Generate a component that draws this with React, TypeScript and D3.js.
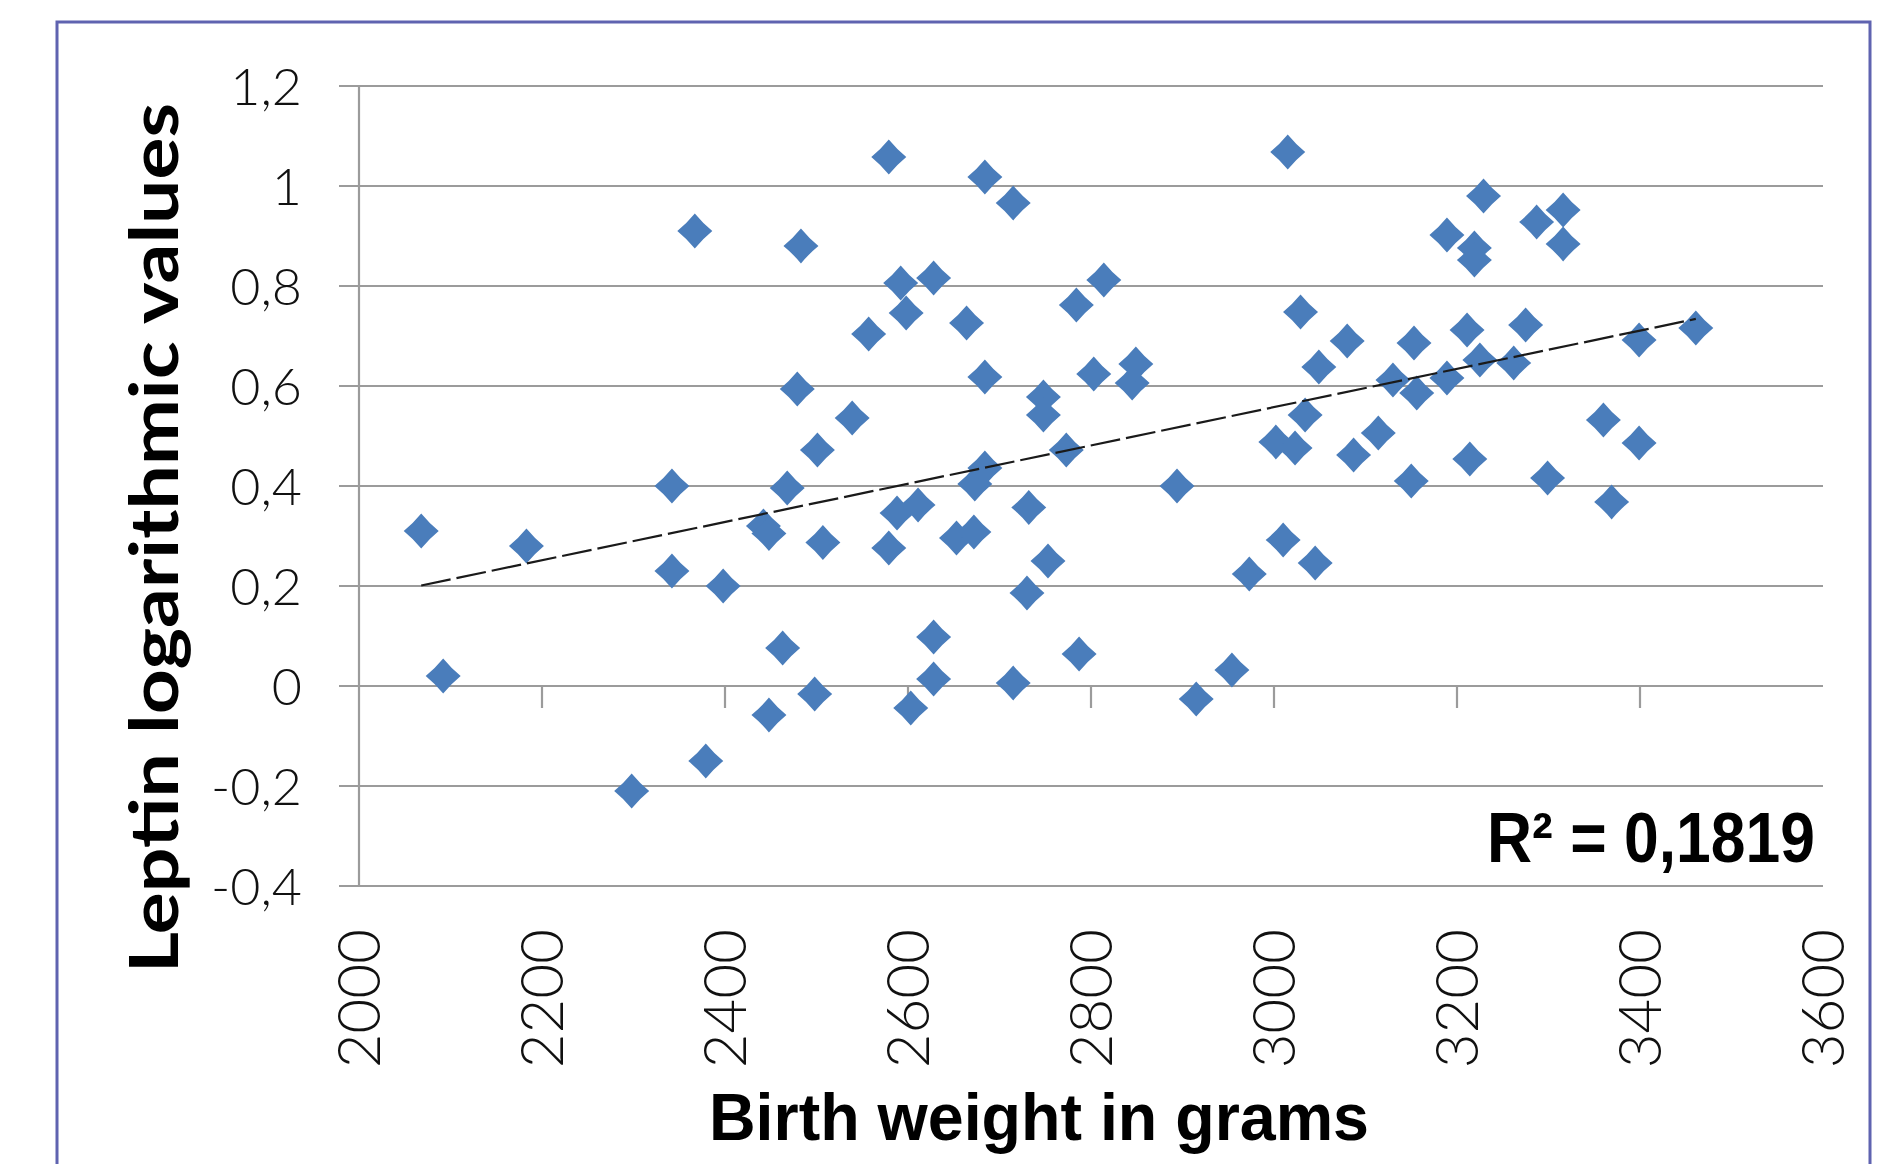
import * as d3 from "d3";

// birth weight (g) and log leptin
const weights = [
  2068, 2092, 2183, 2298, 2342, 2342, 2367, 2379, 2398, 2442,
  2448, 2448, 2463, 2468, 2479, 2483, 2498, 2501, 2507, 2539,
  2557, 2579, 2579, 2588, 2592, 2598, 2603, 2611, 2628, 2628,
  2628, 2653, 2664, 2672, 2673, 2684, 2684, 2684, 2715, 2715,
  2730, 2732, 2748, 2748, 2753, 2773, 2784, 2787, 2803, 2814,
  2845, 2849, 2894, 2915, 2954, 2973, 3002, 3010, 3015, 3023,
  3029, 3034, 3045, 3049, 3080, 3087, 3114, 3130, 3150, 3153,
  3156, 3189, 3189, 3211, 3214, 3219, 3219, 3225, 3229, 3262,
  3275, 3287, 3299, 3316, 3316, 3360, 3369, 3399, 3399, 3461,
];
const leptin = [
  0.31, 0.02, 0.28, -0.21, 0.4, 0.23, 0.91, -0.15, 0.2, 0.32,
  0.305, -0.058, 0.076, 0.396, 0.594, 0.88, -0.016, 0.472, 0.287, 0.536,
  0.704, 1.058, 0.276, 0.346, 0.806, 0.746, -0.044, 0.362, 0.816, 0.098,
  0.014, 0.296, 0.726, 0.308, 0.404, 1.018, 0.618, 0.436, 0.966, 0.006,
  0.186, 0.357, 0.578, 0.542, 0.25, 0.472, 0.762, 0.064, 0.624, 0.812,
  0.606, 0.644, 0.4, -0.026, 0.032, 0.224, 0.488, 0.292, 1.068, 0.476,
  0.748, 0.542, 0.246, 0.638, 0.69, 0.462, 0.506, 0.612, 0.41, 0.686,
  0.586, 0.902, 0.616, 0.712, 0.454, 0.876, 0.852, 0.652, 0.98, 0.646,
  0.722, 0.928, 0.416, 0.952, 0.884, 0.532, 0.368, 0.692, 0.486, 0.716,
];

const xTicks = [2000, 2200, 2400, 2600, 2800, 3000, 3200, 3400, 3600];
const yTicks = [-0.4, -0.2, 0, 0.2, 0.4, 0.6, 0.8, 1, 1.2];
const xTitle = "Birth weight in grams";
const yTitle = "Leptin logarithmic values";
const r2Label = "R² = 0,1819";

const W = 1891;
const H = 1164;
const GRID = "#9b9b9b";
const BLUE = "#4a7dbb";
const NUM_FONT = "Lato, 'Open Sans', sans-serif";

const fmt = (v: number) => String(v).replace(".", ",");

// slightly concave diamond like the Excel marker
function diamond(h: number) {
  const c = h * 0.45;
  return `M0,${-h}Q${c},${-c} ${h},0Q${c},${c} 0,${h}Q${-c},${c} ${-h},0Q${-c},${-c} 0,${-h}Z`;
}

export default function App() {
  const x = d3.scaleLinear().domain([2000, 3600]).range([359, 1823]);
  const y = d3.scaleLinear().domain([-0.4, 1.2]).range([886, 86]);

  const pts = weights.map((w, i) => ({ w, v: leptin[i] }));

  // least squares trendline
  const mx = d3.mean(weights)!;
  const my = d3.mean(leptin)!;
  const sxy = d3.sum(pts, (p) => (p.w - mx) * (p.v - my));
  const sxx = d3.sum(pts, (p) => (p.w - mx) ** 2);
  const slope = sxy / sxx;
  const icpt = my - slope * mx;
  const [wMin, wMax] = d3.extent(weights) as [number, number];
  const trend = d3
    .line<number>()
    .x((w) => x(w))
    .y((w) => y(icpt + slope * w))([wMin, wMax]);

  const x0 = x.range()[0];
  const x1 = x.range()[1];

  return (
    <svg
      width={W}
      height={H}
      style={{ position: "absolute", left: 0, top: 0, background: "#fff" }}
    >
      {/* outer frame, bottom edge runs off the image */}
      <path d={`M57,${H + 10}V22H1870V${H + 10}`} fill="none" stroke="#5f63b0" strokeWidth={3} />

      {/* horizontal gridlines with outside ticks */}
      {yTicks.map((t) => (
        <line key={t} x1={x0 - 20} x2={x1} y1={y(t)} y2={y(t)} stroke={GRID} strokeWidth={2.2} />
      ))}
      <line x1={x0} x2={x0} y1={y(1.2)} y2={y(-0.4)} stroke={GRID} strokeWidth={2.2} />

      {/* x ticks hang off the zero line */}
      {xTicks.slice(1, -1).map((t) => (
        <line key={t} x1={x(t)} x2={x(t)} y1={y(0)} y2={y(0) + 22} stroke={GRID} strokeWidth={2.2} />
      ))}

      {/* y tick labels */}
      {yTicks.map((t) => (
        <text
          key={t}
          x={302}
          y={y(t) + 19}
          textAnchor="end"
          fontFamily={NUM_FONT}
          fontWeight={300}
          fontSize={52}
          fill="#111"
        >
          {fmt(t)}
        </text>
      ))}

      {/* x tick labels, rotated */}
      {xTicks.map((t) => (
        <text
          key={t}
          transform={`translate(${x(t) + 21},929) rotate(-90)`}
          textAnchor="end"
          fontFamily={NUM_FONT}
          fontWeight={300}
          fontSize={60}
          fill="#111"
        >
          {fmt(t)}
        </text>
      ))}

      {/* points */}
      {pts.map((p, i) => (
        <path key={i} d={diamond(17.5)} transform={`translate(${x(p.w)},${y(p.v)})`} fill={BLUE} />
      ))}

      {/* trendline */}
      <path d={trend ?? undefined} fill="none" stroke="#1a1a1a" strokeWidth={2.2} strokeDasharray="30 6" />

      {/* R squared */}
      <text
        x={1815}
        y={862}
        textAnchor="end"
        fontFamily="'Liberation Sans Narrow', 'Liberation Sans', sans-serif"
        fontWeight={700}
        fontSize={70}
        textLength={328}
        lengthAdjust="spacingAndGlyphs"
        fill="#000"
      >
        {r2Label}
      </text>

      {/* axis titles */}
      <text
        x={709}
        y={1140}
        fontFamily="'Liberation Sans Narrow', 'Liberation Sans', sans-serif"
        fontWeight={700}
        fontSize={66}
        textLength={660}
        lengthAdjust="spacingAndGlyphs"
        fill="#000"
      >
        {xTitle}
      </text>
      <text
        transform="translate(178,973) rotate(-90)"
        fontFamily="Lato, 'DejaVu Sans', sans-serif"
        fontWeight={700}
        fontSize={66}
        textLength={870}
        lengthAdjust="spacingAndGlyphs"
        fill="#000"
      >
        {yTitle}
      </text>
    </svg>
  );
}
